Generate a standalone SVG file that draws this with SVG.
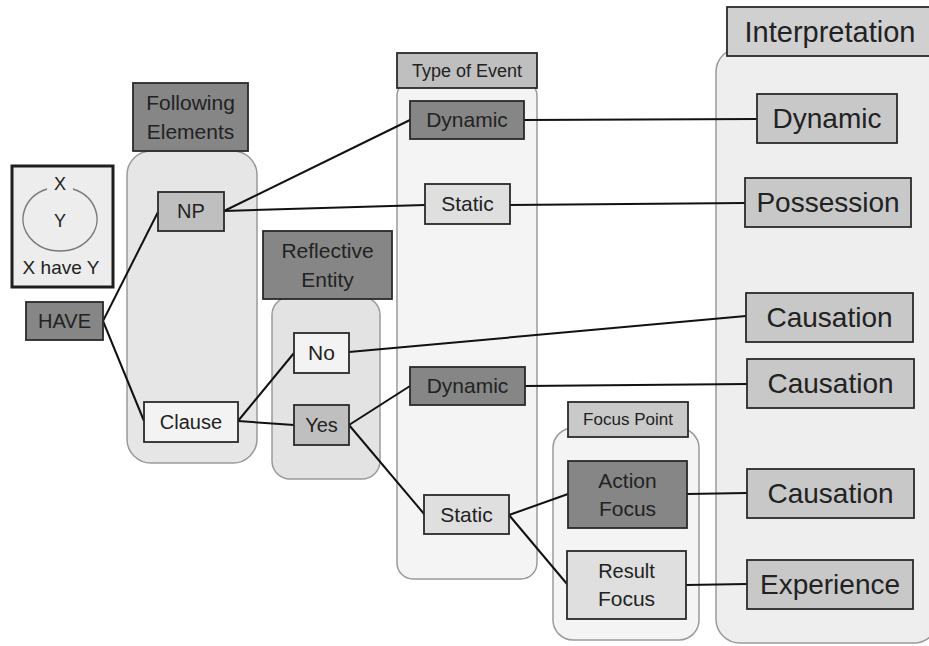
<svg xmlns="http://www.w3.org/2000/svg" width="929" height="646" viewBox="0 0 929 646">
<style>
text{font-family:"Liberation Sans",Arial,sans-serif;fill:#222222;text-anchor:middle}
.cont{stroke:#9a9a9a;stroke-width:1.5}
.box{stroke:#2a2a2a;stroke-width:1.8}
.dark{fill:#868686}
.mid{fill:#bfbfbf}
.light{fill:#dfdfdf}
.pale{fill:#f3f3f3}
.interp{fill:#c8c8c8}
.t20{font-size:20px}
.t21{font-size:21px}
.t18{font-size:18px}
.t17{font-size:17px}
.t28{font-size:28px}
#connectors line{stroke:#111;stroke-width:2}
</style>
<rect width="929" height="646" fill="#ffffff"/>

<!-- containers -->
<g id="following-container">
<rect class="cont" x="127" y="151" width="130" height="312" rx="24" fill="#e6e6e6"/>
<rect class="box dark" x="133" y="83" width="115" height="68"/>
<text class="t21" x="190.5" y="110">Following</text>
<text class="t21" x="190.5" y="139">Elements</text>
</g>
<g id="reflective-container">
<rect class="cont" x="272" y="297" width="108" height="182" rx="18" fill="#e3e3e3"/>
<rect class="box dark" x="263" y="231" width="129" height="68"/>
<text class="t21" x="327.5" y="258">Reflective</text>
<text class="t21" x="327.5" y="287">Entity</text>
</g>
<g id="event-container">
<rect class="cont" x="397" y="80" width="140" height="499" rx="16" fill="#f4f4f4"/>
<rect class="box mid" x="397" y="53" width="140" height="35"/>
<text class="t18" x="467" y="77">Type of Event</text>
</g>
<g id="focus-container">
<rect class="cont" x="553" y="428" width="146" height="212" rx="20" fill="#f4f4f4"/>
<rect class="box" x="568" y="402" width="120" height="35" fill="#c9c9c9"/>
<text class="t17" x="628" y="425">Focus Point</text>
</g>
<g id="interp-container">
<rect class="cont" x="716" y="48" width="222" height="595" rx="24" fill="#eeeeee"/>
<rect class="box" x="727" y="7" width="210" height="49" fill="#d0d0d0"/>
<text x="830" y="42" style="font-size:29px">Interpretation</text>
</g>

<!-- legend -->
<g id="legend">
<rect x="12" y="166" width="101" height="121" fill="#ededed" stroke="#1e1e1e" stroke-width="3"/>
<path d="M47,189 A37,32 0 1,0 73,189" fill="none" stroke="#7a7a7a" stroke-width="1.5"/>
<text class="t18" x="60" y="190">X</text>
<text class="t18" x="60" y="227">Y</text>
<text x="61" y="274" style="font-size:19px">X have Y</text>
</g>

<!-- connectors -->
<g id="connectors">
<line x1="103" y1="321" x2="158" y2="212"/>
<line x1="103" y1="321" x2="144" y2="421"/>
<line x1="224" y1="211" x2="410" y2="120"/>
<line x1="224" y1="211" x2="425" y2="205"/>
<line x1="238" y1="421" x2="294" y2="353"/>
<line x1="238" y1="421" x2="294" y2="425"/>
<line x1="349" y1="352" x2="746" y2="316"/>
<line x1="349" y1="425" x2="410" y2="386"/>
<line x1="349" y1="425" x2="425" y2="515"/>
<line x1="524" y1="120" x2="757" y2="119"/>
<line x1="509" y1="205" x2="745" y2="203"/>
<line x1="525" y1="386" x2="747" y2="384"/>
<line x1="509" y1="515" x2="568" y2="494"/>
<line x1="509" y1="515" x2="567" y2="584"/>
<line x1="687" y1="494" x2="747" y2="493"/>
<line x1="686" y1="585" x2="747" y2="584"/>
</g>

<!-- nodes -->
<g id="have"><rect class="box dark" x="26" y="302" width="77" height="38"/><text class="t20" x="64.5" y="328">HAVE</text></g>
<g id="np"><rect class="box mid" x="158" y="192" width="66" height="39"/><text class="t20" x="191" y="218">NP</text></g>
<g id="clause"><rect class="box pale" x="144" y="402" width="94" height="40"/><text class="t20" x="191" y="429">Clause</text></g>
<g id="no"><rect class="box pale" x="294" y="333" width="55" height="40"/><text class="t21" x="321.5" y="360">No</text></g>
<g id="yes"><rect class="box mid" x="294" y="405" width="55" height="40"/><text class="t20" x="321.5" y="432">Yes</text></g>
<g id="dynamic1"><rect class="box dark" x="410" y="101" width="114" height="38"/><text class="t21" x="467" y="127">Dynamic</text></g>
<g id="static1"><rect class="box light" x="425" y="184" width="85" height="40"/><text class="t21" x="467.5" y="211">Static</text></g>
<g id="dynamic2"><rect class="box dark" x="410" y="367" width="115" height="38"/><text class="t21" x="467.5" y="393">Dynamic</text></g>
<g id="static2"><rect class="box light" x="424" y="495" width="85" height="39"/><text class="t21" x="466.5" y="522">Static</text></g>
<g id="action-focus"><rect class="box dark" x="568" y="461" width="119" height="67"/><text class="t21" x="627.5" y="488">Action</text><text class="t21" x="627.5" y="516">Focus</text></g>
<g id="result-focus"><rect class="box light" x="567" y="551" width="119" height="68"/><text class="t20" x="626.5" y="578">Result</text><text class="t21" x="626.5" y="606">Focus</text></g>
<g id="i-dynamic"><rect class="box interp" x="757" y="94" width="140" height="49"/><text class="t28" x="827" y="128">Dynamic</text></g>
<g id="i-possession"><rect class="box interp" x="745" y="178" width="166" height="49"/><text class="t28" x="828" y="212">Possession</text></g>
<g id="i-causation1"><rect class="box interp" x="746" y="293" width="167" height="49"/><text class="t28" x="829.5" y="327">Causation</text></g>
<g id="i-causation2"><rect class="box interp" x="747" y="359" width="167" height="49"/><text class="t28" x="830.5" y="393">Causation</text></g>
<g id="i-causation3"><rect class="box interp" x="747" y="469" width="167" height="49"/><text class="t28" x="830.5" y="503">Causation</text></g>
<g id="i-experience"><rect class="box interp" x="747" y="560" width="166" height="49"/><text class="t28" x="830" y="594">Experience</text></g>
</svg>
